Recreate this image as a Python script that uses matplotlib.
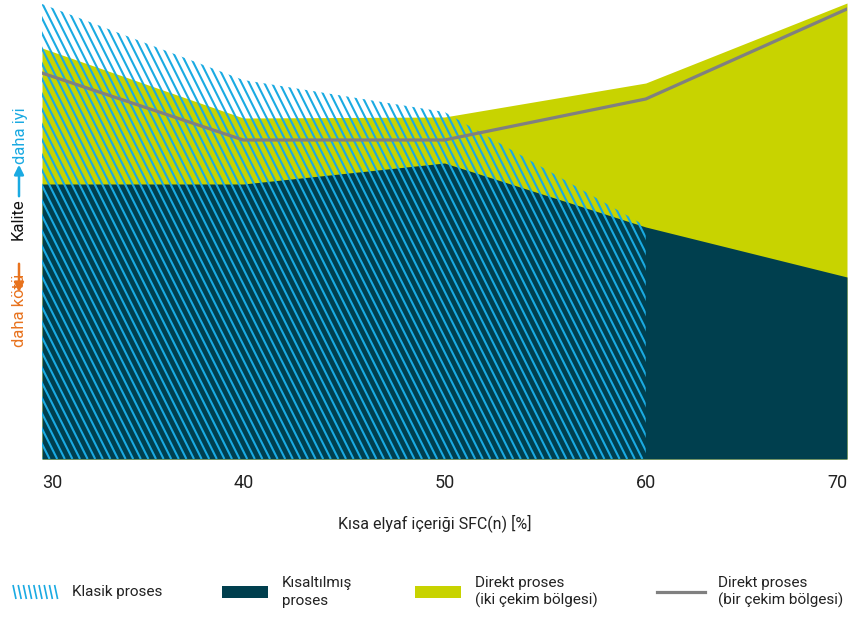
import numpy as np
import matplotlib
matplotlib.use("Agg")
import matplotlib.pyplot as plt
from matplotlib.patches import Polygon, Rectangle, FancyArrowPatch
from matplotlib.collections import LineCollection

plt.rcParams['font.family'] = ['Roboto', 'DejaVu Sans']

# SFC(n) short fibre content [%]
sfc = [30, 40, 50, 60, 70]
sfc_klasik = [30, 40, 50, 60]

# quality index (higher = better)
klasik = [455, 379, 347, 233]            # classic process (hatched)
kisaltilmis = [275, 275, 296, 232, 182]  # shortened process
direkt_iki = [411, 341, 342, 376, 456]   # direct process, two drafting zones
direkt_bir = [386, 319, 319, 360, 450]   # direct process, one drafting zone

tick_labels = ['30', '40', '50', '60', '70']
xlabel = 'Kısa elyaf içeriği SFC(n) [%]'

C_DARK = '#003f4e'
C_GREEN = '#c8d300'
C_CYAN = '#1aaae2'
C_GREY = '#808080'
C_ORANGE = '#e8731e'
C_TEXT = '#222222'

W, H = 867, 619
fig = plt.figure(figsize=(W / 100, H / 100), dpi=100)

ax_l, ax_b, ax_w, ax_h = 42, 160, 805, 459
ax = fig.add_axes([ax_l / W, ax_b / H, ax_w / W, ax_h / H])
ax.set_xlim(30, 70)
ax.set_ylim(0, 459)
for s in ax.spines.values():
    s.set_visible(False)
ax.set_yticks([])
ax.set_xticks(sfc)
ax.set_xticklabels([])
ax.tick_params(axis='x', length=0)

ax.fill_between(sfc, 0, direkt_iki, color=C_GREEN, lw=0, zorder=1)
ax.fill_between(sfc, 0, kisaltilmis, color=C_DARK, lw=0, zorder=2)

# hatched area for the classic process
poly_xy = np.column_stack([sfc_klasik + sfc_klasik[::-1],
                           klasik + [0] * len(klasik)])
clip = Polygon(poly_xy, closed=True, facecolor='none', edgecolor='none',
               transform=ax.transData)
ax.add_patch(clip)
step = 7.6   # horizontal spacing in px
slope = 0.5  # dx per dy (px)
segs = []
x0 = -slope * ax_h
while x0 < ax_w + 10:
    segs.append([((x0) / ax_w, 1.0), ((x0 + slope * ax_h) / ax_w, 0.0)])
    x0 += step
lc = LineCollection(segs, colors=C_CYAN, linewidths=1.5,
                    transform=ax.transAxes, zorder=3)
lc.set_clip_path(clip)
ax.add_collection(lc)

ax.plot(sfc, direkt_bir, color=C_GREY, lw=2.3, zorder=4,
        solid_joinstyle='miter')

# x tick labels and axis title
for i, (v, t) in enumerate(zip(sfc, tick_labels)):
    ha = 'left' if i == 0 else ('right' if i == len(sfc) - 1 else 'center')
    ax.text(v, -24, t, ha=ha, va='center', fontsize=13, color=C_TEXT,
            clip_on=False)
fig.text(435 / W, 1 - 523 / H, xlabel, ha='center', va='center',
         fontsize=11.5, color=C_TEXT)

# overlay in pixel coordinates for side notes and legend
ov = fig.add_axes([0, 0, 1, 1], facecolor='none')
ov.set_xlim(0, W)
ov.set_ylim(H, 0)
ov.axis('off')

ov.text(18, 219, 'Kalite', rotation=90, ha='center', va='center',
        fontsize=12, color='#111111')
ov.add_patch(FancyArrowPatch((19, 199), (19, 162), arrowstyle='-|>',
                             mutation_scale=14, color=C_CYAN, lw=1.8))
ov.text(20, 136, 'daha iyi', rotation=90, ha='center', va='center',
        fontsize=12, color=C_CYAN)
ov.add_patch(FancyArrowPatch((19, 261), (19, 295), arrowstyle='-|>',
                             mutation_scale=14, color=C_ORANGE, lw=1.8))
ov.text(20, 310, 'daha kötü', rotation=90, ha='center', va='center',
        fontsize=12, color=C_ORANGE)

# legend
ly = 592
hatch_segs = []
for k in range(9):
    xs = 13 + k * 5.2
    hatch_segs.append([(xs, ly - 7), (xs + 3, ly + 7)])
ov.add_collection(LineCollection(hatch_segs, colors=C_CYAN, linewidths=1.2))
ov.text(72, ly, 'Klasik proses', ha='left', va='center', fontsize=11,
        color=C_TEXT)

ov.add_patch(Rectangle((222, ly - 6), 46, 12, color=C_DARK, lw=0))
ov.text(282, ly, 'Kısaltılmış\nproses', ha='left', va='center',
        fontsize=11, color=C_TEXT, linespacing=1.3)

ov.add_patch(Rectangle((415, ly - 6), 46, 12, color=C_GREEN, lw=0))
ov.text(475, ly, 'Direkt proses\n(iki çekim bölgesi)', ha='left',
        va='center', fontsize=11, color=C_TEXT, linespacing=1.3)

ov.plot([657, 705], [ly, ly], color=C_GREY, lw=2.3)
ov.text(718, ly, 'Direkt proses\n(bir çekim bölgesi)', ha='left',
        va='center', fontsize=11, color=C_TEXT, linespacing=1.3)

fig.savefig('out.png', dpi=100)
